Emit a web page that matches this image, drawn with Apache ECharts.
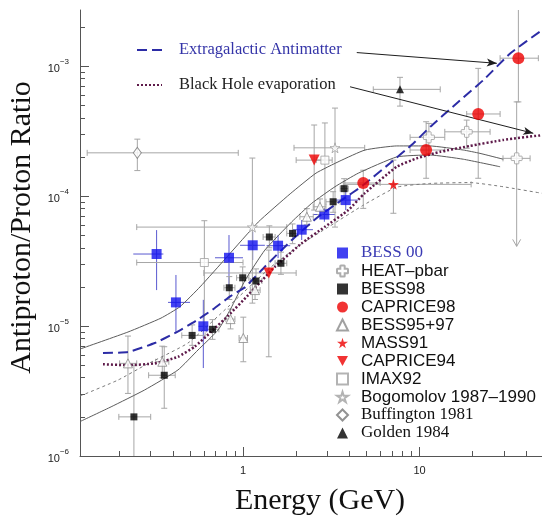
<!DOCTYPE html>
<html>
<head>
<meta charset="utf-8">
<script src="https://cdn.jsdelivr.net/npm/echarts@6/dist/echarts.min.js"></script>
<style>
  html, body { margin: 0; padding: 0; background: #ffffff; }
  #chart { width: 542px; height: 516px; }
</style>
</head>
<body>
<div id="chart"></div>
<script>
// ---- Axes -------------------------------------------------------------
const energyRange = [0.1193, 49.4];          // GeV
const ratioRange = [1e-6, 2.7e-3];           // antiproton / proton
const energyMajorTicks = [1, 10];
const energyMinorTicks = [0.2, 0.3, 0.4, 0.5, 0.6, 0.7, 0.8, 0.9, 2, 3, 4, 5, 6, 7, 8, 9, 20, 30, 40];
const ratioMajorTicks = [1e-6, 1e-5, 1e-4, 1e-3];
const ratioMinorTicks = [2e-6, 3e-6, 4e-6, 5e-6, 6e-6, 7e-6, 8e-6, 9e-6,
                         2e-5, 3e-5, 4e-5, 5e-5, 6e-5, 7e-5, 8e-5, 9e-5,
                         2e-4, 3e-4, 4e-4, 5e-4, 6e-4, 7e-4, 8e-4, 9e-4, 2e-3];

// ---- Measurements: energy (GeV), ratio, [Emin, Emax, Rmin, Rmax, upperLimit] ----
const bess00Energy = [0.324, 0.417, 0.596, 0.833, 1.135, 1.58, 2.15, 2.89, 3.82];
const bess00Ratio  = [3.58e-5, 1.52e-5, 9.95e-6, 3.35e-5, 4.18e-5, 4.15e-5, 5.51e-5, 7.21e-5, 9.31e-5];
const bess00Err = [[0.239, 0.354, 1.89e-5, 5.47e-5], [0.376, 0.501, 8.84e-6, 2.47e-5],
                   [0.56, 0.635, 4.75e-6, 1.59e-5], [0.694, 1.0, 2.0e-5, 5.01e-5],
                   [0.962, 1.33, 3.22e-5, 5.31e-5], [1.36, 1.85, 3.33e-5, 5.0e-5],
                   [1.92, 2.49, 4.59e-5, 6.54e-5], [2.49, 3.32, 6.34e-5, 8.09e-5],
                   [3.32, 4.49, 7.8e-5, 1.11e-4]];

const heatEnergy = [11.3, 18.5, 35.5];
const heatRatio  = [2.83e-4, 3.12e-4, 1.95e-4];
const heatErr = [[8.84, 13.9, 2.13e-4, 3.62e-4], [13.9, 25.1, 2.33e-4, 3.84e-4],
                 [29.7, 42.3, 4.1e-5, 5.3e-4, 1]];

const bess98Energy = [0.241, 0.358, 0.515, 0.672, 0.836, 0.996, 1.185, 1.41, 1.64, 1.908, 3.24, 3.74];
const bess98Ratio  = [2.0e-6, 4.18e-6, 8.47e-6, 9.43e-6, 1.97e-5, 2.35e-5, 2.22e-5, 4.84e-5, 3.04e-5, 5.16e-5, 9.04e-5, 1.14e-4];
const bess98Err = [[0.198, 0.30, 8e-7, 5.0e-6], [0.292, 0.413, 2.33e-6, 6.93e-6],
                   [0.45, 0.61, 7.1e-6, 1.02e-5], [0.62, 0.73, 7.9e-6, 1.12e-5],
                   [0.78, 0.9, 1.6e-5, 2.4e-5], [0.92, 1.08, 1.95e-5, 2.85e-5],
                   [1.1, 1.28, 1.8e-5, 2.75e-5], [1.3, 1.52, 4.0e-5, 5.9e-5],
                   [1.52, 1.77, 2.5e-5, 3.7e-5], [1.77, 2.05, 4.3e-5, 6.1e-5],
                   [2.95, 3.55, 7.5e-5, 1.08e-4], [3.55, 3.95, 9.5e-5, 1.36e-4]];

const caprice98Energy = [4.80, 10.9, 21.5, 36.3];
const caprice98Ratio  = [1.26e-4, 2.26e-4, 4.28e-4, 1.15e-3];
const caprice98Err = [[3.78, 5.98, 8.04e-5, 1.58e-4], [8.84, 13.9, 1.37e-4, 3.73e-4],
                      [18.5, 28.6, 1.37e-4, 9.6e-4], [28.6, 47.1, 5.3e-4, 5e-3]];

const bess9597Energy = [0.223, 0.349, 0.85, 1.004, 1.17, 2.30, 2.73];
const bess9597Ratio  = [5.16e-6, 5.31e-6, 1.13e-5, 8.09e-6, 1.89e-5, 6.93e-5, 8.27e-5];
const bess9597Err = [[0.2, 0.25, 3.03e-6, 8.37e-6], [0.32, 0.38, 4.0e-6, 7.0e-6],
                     [0.8, 0.9, 9.5e-6, 1.35e-5], [0.95, 1.06, 5.31e-6, 1.17e-5],
                     [1.1, 1.25, 1.6e-5, 2.3e-5], [2.1, 2.5, 6.0e-5, 8.0e-5],
                     [2.5, 2.95, 7.2e-5, 9.5e-5]];

const mass91Energy = [7.11];
const mass91Ratio  = [1.23e-4];
const mass91Err = [[3.7, 19.6, 7.37e-5, 1.89e-4]];

const caprice94Energy = [1.40, 2.53];
const caprice94Ratio  = [2.56e-5, 1.89e-4];
const caprice94Err = [[0.6, 2.0, 5.8e-6, 3.84e-5], [2.0, 2.91, 7.8e-5, 3.52e-4]];

const imax92Energy = [0.604, 2.91];
const imax92Ratio  = [3.08e-5, 1.89e-4];
const imax92Err = [[0.25, 1.0, 9.3e-6, 6.46e-5], [2.6, 3.2, 7.8e-5, 3.65e-4]];

const bogomolovEnergy = [1.13, 3.32];
const bogomolovRatio  = [5.77e-5, 2.35e-4];
const bogomolovErr = [[0.25, 1.77, 1.5e-5, 1.96e-4], [1.945, 4.89, 5.77e-5, 4.75e-4]];

const buffingtonEnergy = [0.252];
const buffingtonRatio  = [2.15e-4];
const buffingtonErr = [[0.131, 0.94, 1.57e-4, 2.74e-4]];

const goldenEnergy = [7.75];
const goldenRatio  = [6.62e-4];
const goldenErr = [[5.47, 13.1, 4.92e-4, 8.19e-4]];

// ---- Model curves ------------------------------------------------------
const antimatterEnergy = [0.161, 0.223, 0.316, 0.41, 0.532, 0.679, 0.85, 1.03, 1.33, 1.89, 2.67, 3.62, 4.75, 6.80, 9.22, 11.5, 16.2, 23.0, 32.6, 49.4];
const antimatterRatio  = [6.2e-6, 6.3e-6, 7.4e-6, 8.8e-6, 1.08e-5, 1.35e-5, 1.7e-5, 2.0e-5, 2.86e-5, 4.59e-5, 6.93e-5, 9.3e-5, 1.2e-4, 1.79e-4, 2.54e-4, 3.41e-4, 5.16e-4, 7.8e-4, 1.25e-3, 1.89e-3];

const blackHoleEnergy = [0.161, 0.223, 0.316, 0.428, 0.532, 0.661, 0.844, 1.07, 1.52, 2.15, 2.91, 3.95, 4.85, 7.43, 9.64, 13.1, 19.3, 29.8, 49.4];
const blackHoleRatio  = [5.08e-6, 5.0e-6, 5.16e-6, 5.8e-6, 6.93e-6, 9.04e-6, 1.24e-5, 1.73e-5, 2.86e-5, 4.33e-5, 5.8e-5, 7.8e-5, 1.04e-4, 1.68e-4, 1.95e-4, 2.19e-4, 2.43e-4, 2.7e-4, 2.94e-4];

const upperSecondaryEnergy = [0.1193, 0.223, 0.343, 0.44, 0.571, 0.811, 1.22, 1.85, 2.59, 3.54, 4.91, 7.43, 11.4, 17.7, 22.0, 29.8];
const upperSecondaryRatio  = [6.65e-6, 8.99e-6, 1.15e-5, 1.41e-5, 2.0e-5, 3.4e-5, 6.31e-5, 1.04e-4, 1.5e-4, 1.86e-4, 2.26e-4, 2.43e-4, 2.43e-4, 2.26e-4, 2.13e-4, 1.92e-4];

const lowerSecondaryEnergy = [0.1193, 0.179, 0.277, 0.428, 0.556, 0.722, 0.85, 1.03, 1.33, 1.89, 2.45, 3.32, 4.50, 7.43, 11.4, 17.7, 28.6];
const lowerSecondaryRatio  = [1.84e-6, 2.39e-6, 3.22e-6, 4.59e-6, 6.54e-6, 9.31e-6, 1.35e-5, 2.26e-5, 3.84e-5, 6.34e-5, 8.79e-5, 1.18e-4, 1.5e-4, 2.0e-4, 2.07e-4, 1.92e-4, 1.68e-4];

const midSecondaryEnergy = [0.1193, 0.196, 0.279, 0.488, 0.844, 1.42, 2.1, 3.11, 4.8, 7.43, 11.4, 19.3, 29.7, 49.4];
const midSecondaryRatio  = [2.89e-6, 3.84e-6, 5.0e-6, 7.4e-6, 1.45e-5, 2.8e-5, 4.2e-5, 5.88e-5, 8.5e-5, 1.17e-4, 1.25e-4, 1.27e-4, 1.18e-4, 1.05e-4];

// Annotation arrows (data coordinates: from text to curve)
const antimatterArrow = [[4.41, 1.27e-3], [27.4, 1.05e-3]];
const blackHoleArrow  = [[4.04, 6.93e-4], [44.1, 3.04e-4]];

// ---- Helpers -----------------------------------------------------------
const pairs = (xs, ys) => xs.map((x, i) => [x, ys[i]]);

const STAR = 'path://M50,0 L61,35 L98,35 L68,57 L79,91 L50,70 L21,91 L32,57 L2,35 L39,35 Z';
const CROSS = 'path://M35,0 H65 Q70,0 70,5 V30 H95 Q100,30 100,35 V65 Q100,70 95,70 H70 V95 Q70,100 65,100 H35 Q30,100 30,95 V70 H5 Q0,70 0,65 V35 Q0,30 5,30 H30 V5 Q30,0 35,0 Z';
const DOWN_TRI = 'path://M0,0 L100,0 L50,90 Z';

function errorBars(name, energy, ratio, err, color, caps) {
  const data = energy.map((e, i) => [e, ratio[i], err[i][0], err[i][1], err[i][2], err[i][3], err[i][4] || 0]);
  return {
    type: 'custom',
    name: name + ' (errors)',
    xAxisIndex: 0, yAxisIndex: 0,
    silent: true,
    clip: true,
    z: 1,
    data: data,
    renderItem: function (params, api) {
      const c = api.coord([api.value(0), api.value(1)]);
      const xl = api.coord([api.value(2), api.value(1)]);
      const xh = api.coord([api.value(3), api.value(1)]);
      const yl = api.coord([api.value(0), api.value(4)]);
      const yh = api.coord([api.value(0), api.value(5)]);
      const style = { stroke: color, lineWidth: 1, fill: null };
      const seg = (x1, y1, x2, y2) => ({ type: 'line', shape: { x1, y1, x2, y2 }, style });
      const children = [seg(xl[0], c[1], xh[0], c[1]), seg(c[0], yl[1], c[0], yh[1])];
      if (caps) {
        const h = 3;
        children.push(seg(xl[0], c[1] - h, xl[0], c[1] + h));
        children.push(seg(xh[0], c[1] - h, xh[0], c[1] + h));
        children.push(seg(c[0] - h, yh[1], c[0] + h, yh[1]));
        if (api.value(6)) {
          children.push(seg(c[0] - 4, yl[1] - 7, c[0], yl[1]));
          children.push(seg(c[0] + 4, yl[1] - 7, c[0], yl[1]));
        } else {
          children.push(seg(c[0] - h, yl[1], c[0] + h, yl[1]));
        }
      }
      return { type: 'group', children };
    }
  };
}

function points(name, energy, ratio, symbol, size, itemStyle) {
  return {
    type: 'scatter', name, xAxisIndex: 0, yAxisIndex: 0, z: 5,
    symbol, symbolSize: size, itemStyle,
    data: pairs(energy, ratio)
  };
}

function curve(name, energy, ratio, lineStyle, z) {
  return {
    type: 'line', name, data: pairs(energy, ratio),
    symbol: 'none', smooth: 0.15, silent: true, z,
    itemStyle: { color: 'rgba(0,0,0,0)', borderWidth: 0 },
    lineStyle
  };
}

const GREY = '#a6a6a6';
const SANS = 'Liberation Sans';
const SERIF = 'Liberation Serif';

const arrowStyle = {
  silent: true, symbol: ['none', 'arrow'], symbolSize: [6, 10],
  label: { show: false },
  lineStyle: { color: '#1e1e1e', width: 1, type: 'solid' }
};

const antimatterCurve = curve('Extragalactic Antimatter', antimatterEnergy, antimatterRatio,
  { color: '#2c2ca6', width: 2, type: [10, 5] }, 3);
antimatterCurve.markLine = Object.assign({}, arrowStyle,
  { data: [[{ coord: antimatterArrow[0] }, { coord: antimatterArrow[1] }]] });

const blackHoleCurve = curve('Black Hole evaporation', blackHoleEnergy, blackHoleRatio,
  { color: '#5e1a4a', width: 2.5, type: [2, 2] }, 3);
blackHoleCurve.markLine = Object.assign({}, arrowStyle,
  { data: [[{ coord: blackHoleArrow[0] }, { coord: blackHoleArrow[1] }]] });

const series = [
  errorBars('BESS 00', bess00Energy, bess00Ratio, bess00Err, '#5a5ad0', false),
  errorBars('HEAT-pbar', heatEnergy, heatRatio, heatErr, GREY, true),
  errorBars('BESS98', bess98Energy, bess98Ratio, bess98Err, GREY, true),
  errorBars('CAPRICE98', caprice98Energy, caprice98Ratio, caprice98Err, GREY, true),
  errorBars('BESS95+97', bess9597Energy, bess9597Ratio, bess9597Err, GREY, true),
  errorBars('MASS91', mass91Energy, mass91Ratio, mass91Err, GREY, true),
  errorBars('CAPRICE94', caprice94Energy, caprice94Ratio, caprice94Err, GREY, true),
  errorBars('IMAX92', imax92Energy, imax92Ratio, imax92Err, GREY, true),
  errorBars('Bogomolov', bogomolovEnergy, bogomolovRatio, bogomolovErr, GREY, true),
  errorBars('Buffington', buffingtonEnergy, buffingtonRatio, buffingtonErr, GREY, true),
  errorBars('Golden', goldenEnergy, goldenRatio, goldenErr, GREY, true),

  // secondary-production model curves
  curve('upper secondary', upperSecondaryEnergy, upperSecondaryRatio, { color: '#5c5c5c', width: 1 }, 2),
  curve('lower secondary', lowerSecondaryEnergy, lowerSecondaryRatio, { color: '#5c5c5c', width: 1 }, 2),
  curve('mid secondary', midSecondaryEnergy, midSecondaryRatio, { color: '#7a7a7a', width: 1, type: [3, 3] }, 2),

  antimatterCurve,
  blackHoleCurve,

  points('BESS 00', bess00Energy, bess00Ratio, 'rect', 10, { color: '#1212ee' }),
  points('HEAT\u2013pbar', heatEnergy, heatRatio, CROSS, 11, { color: '#ffffff', borderColor: '#9a9a9a', borderWidth: 1 }),
  points('BESS98', bess98Energy, bess98Ratio, 'rect', 7, { color: '#000000' }),
  points('CAPRICE98', caprice98Energy, caprice98Ratio, 'circle', 12, { color: '#ee0000' }),
  points('BESS95+97', bess9597Energy, bess9597Ratio, 'triangle', 9, { color: '#ffffff', borderColor: '#8a8a8a', borderWidth: 1 }),
  points('MASS91', mass91Energy, mass91Ratio, STAR, 11, { color: '#ee0000' }),
  points('CAPRICE94', caprice94Energy, caprice94Ratio, DOWN_TRI, 11, { color: '#ee0000' }),
  points('IMAX92', imax92Energy, imax92Ratio, 'rect', 8, { color: '#ffffff', borderColor: '#a0a0a0', borderWidth: 1 }),
  points('Bogomolov 1987\u20131990', bogomolovEnergy, bogomolovRatio, STAR, 10, { color: '#ffffff', borderColor: '#a0a0a0', borderWidth: 1 }),
  points('Buffington 1981', buffingtonEnergy, buffingtonRatio, 'diamond', [8, 11], { color: '#ffffff', borderColor: '#777777', borderWidth: 1 }),
  points('Golden 1984', goldenEnergy, goldenRatio, 'triangle', 8, { color: '#000000' })
];

const datasetLegend = [
  { name: 'BESS 00', textStyle: { fontFamily: SERIF, color: '#3a3ab4' } },
  { name: 'HEAT\u2013pbar' },
  { name: 'BESS98' },
  { name: 'CAPRICE98' },
  { name: 'BESS95+97' },
  { name: 'MASS91' },
  { name: 'CAPRICE94' },
  { name: 'IMAX92' },
  { name: 'Bogomolov 1987\u20131990' },
  { name: 'Buffington 1981', textStyle: { fontFamily: SERIF } },
  { name: 'Golden 1984', textStyle: { fontFamily: SERIF } }
];

const axisColor = '#555555';
const logAxisBase = (dir) => ({
  type: 'log', logBase: 10,
  min: dir === 'x' ? energyRange[0] : ratioRange[0],
  max: dir === 'x' ? energyRange[1] : ratioRange[1],
  splitLine: { show: false }
});

const option = {
  animation: false,
  backgroundColor: '#ffffff',
  grid: { left: 80, right: 0, top: 10, bottom: 60, containLabel: false, outerBoundsMode: 'none' },
  xAxis: [
    Object.assign(logAxisBase('x'), {
      position: 'bottom',
      axisLine: { show: true, lineStyle: { color: axisColor, width: 1 } },
      axisTick: { show: true, inside: true, length: 9, customValues: energyMajorTicks, lineStyle: { color: axisColor } },
      axisLabel: { show: true, customValues: energyMajorTicks, margin: 9, fontSize: 11, fontFamily: SANS, color: '#222',
                   formatter: (v) => String(Math.round(v)) },
      name: 'Energy (GeV)', nameLocation: 'middle', nameGap: 30,
      nameTextStyle: { fontFamily: SERIF, fontSize: 30, color: '#111', padding: [0, 0, 0, 18] }
    }),
    Object.assign(logAxisBase('x'), {
      position: 'bottom',
      axisLine: { show: false },
      axisTick: { show: true, inside: true, length: 5, customValues: energyMinorTicks, lineStyle: { color: axisColor } },
      axisLabel: { show: false }
    })
  ],
  yAxis: [
    Object.assign(logAxisBase('y'), {
      position: 'left',
      axisLine: { show: true, lineStyle: { color: axisColor, width: 1 } },
      axisTick: { show: true, inside: true, length: 9, customValues: ratioMajorTicks, lineStyle: { color: axisColor } },
      axisLabel: {
        show: true, customValues: ratioMajorTicks, margin: 11, color: '#222',
        formatter: (v) => '{b|10}{e|\u2212' + Math.round(-Math.log10(v)) + '}',
        rich: {
          b: { fontFamily: SANS, fontSize: 11, lineHeight: 16, verticalAlign: 'bottom', color: '#222' },
          e: { fontFamily: SANS, fontSize: 8, lineHeight: 9, verticalAlign: 'top', color: '#222' }
        }
      },
      name: 'Antiproton/Proton Ratio', nameLocation: 'middle', nameGap: 40,
      nameTextStyle: { fontFamily: SERIF, fontSize: 30, color: '#111', padding: [0, 0, 0, 11] }
    }),
    Object.assign(logAxisBase('y'), {
      position: 'left',
      axisLine: { show: false },
      axisTick: { show: true, inside: true, length: 5, customValues: ratioMinorTicks, lineStyle: { color: axisColor } },
      axisLabel: { show: false }
    })
  ],
  legend: [
    {
      data: datasetLegend,
      orient: 'vertical', left: 336, top: 244, padding: 0,
      itemWidth: 11, itemHeight: 11, itemGap: 0,
      selectedMode: false,
      textStyle: { fontFamily: SANS, fontSize: 17, lineHeight: 18, color: '#111', padding: [0, 0, 0, 8] }
    },
    {
      data: [
        { name: 'Extragalactic Antimatter', textStyle: { color: '#3434a8' } },
        { name: 'Black Hole evaporation' }
      ],
      orient: 'vertical', left: 136, top: 40, padding: 0,
      itemWidth: 25, itemHeight: 14, itemGap: 15,
      selectedMode: false,
      textStyle: { fontFamily: SERIF, fontSize: 16.5, lineHeight: 20, color: '#222', padding: [0, 0, 0, 12] }
    }
  ],
  series
};

const chart = echarts.init(document.getElementById('chart'));
chart.setOption(option);
</script>
</body>
</html>
